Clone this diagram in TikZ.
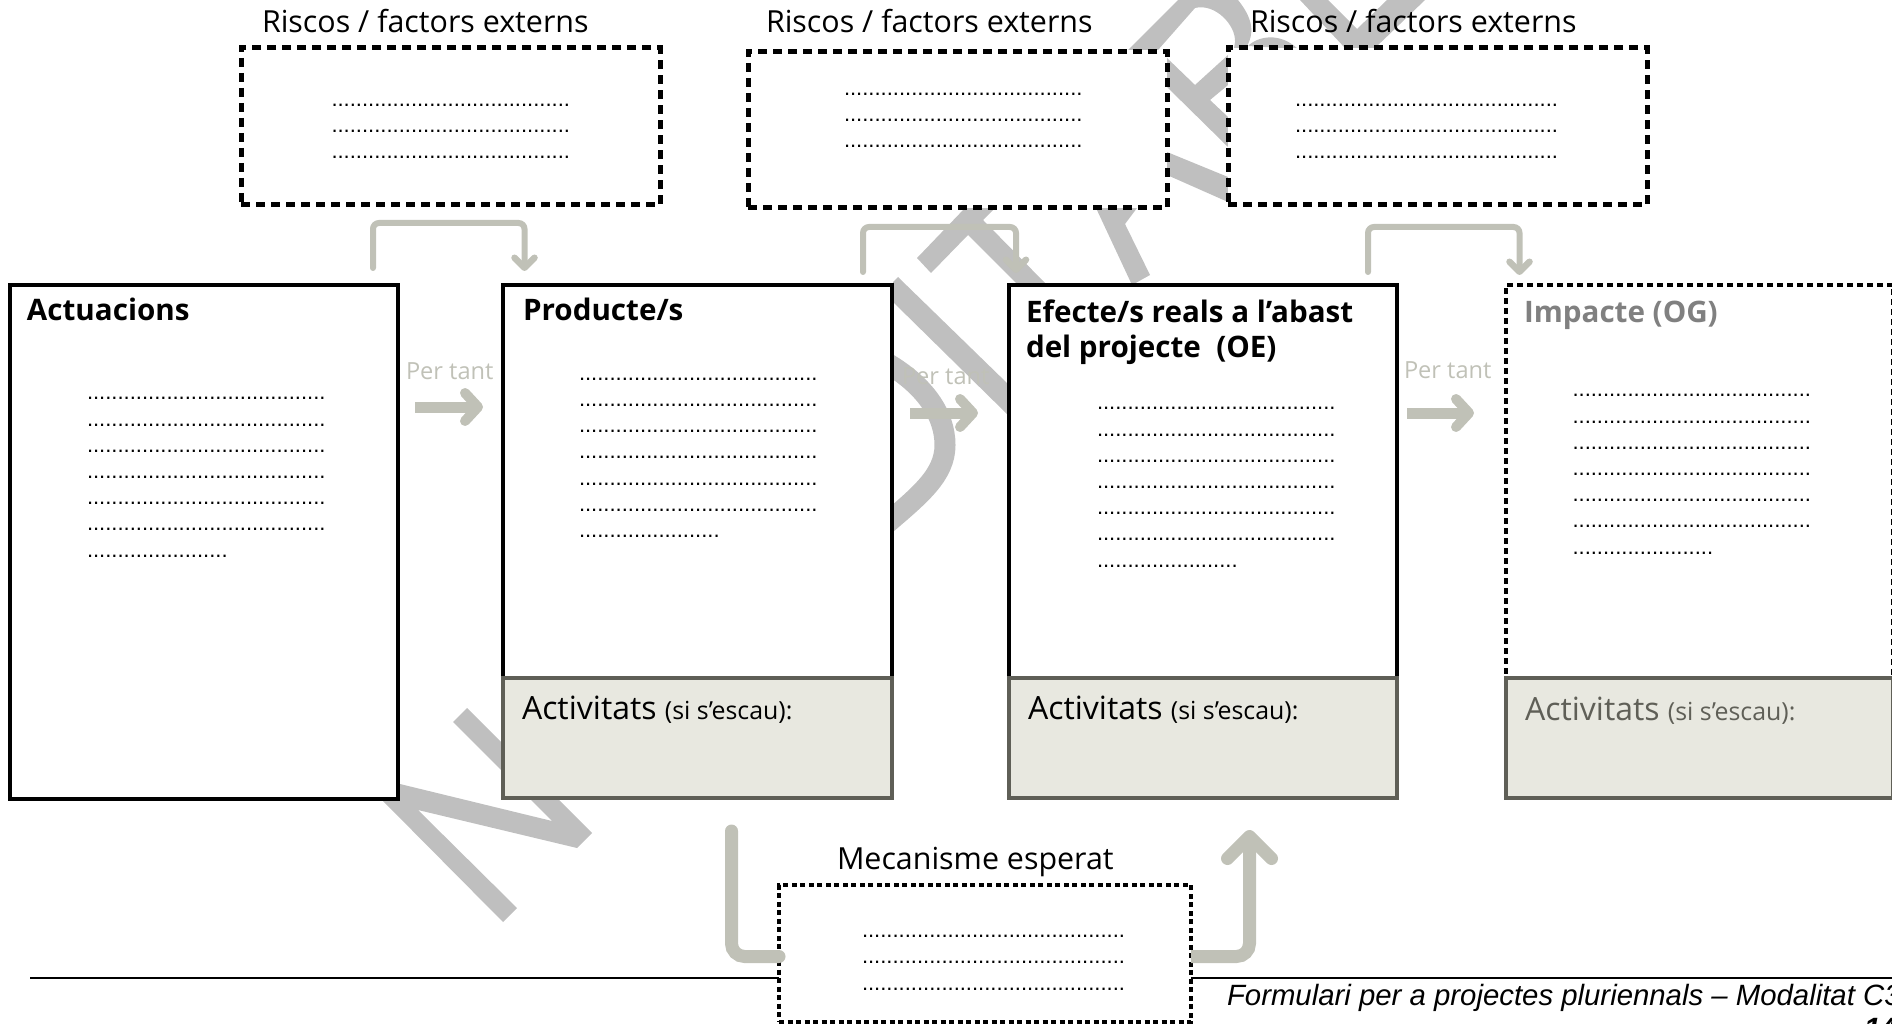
\documentclass[tikz,border=0pt]{standalone}
\usepackage{fontspec}
\setmainfont{Open Sans}
\newfontfamily\dotfont{Liberation Sans}
\newfontfamily\footfont{Liberation Sans}
\usetikzlibrary{arrows.meta,positioning}

\definecolor{arrowgray}{HTML}{C0C1B7}
\definecolor{markgray}{HTML}{BFBFBF}
\definecolor{actfill}{HTML}{E8E8E0}
\definecolor{actline}{HTML}{5F5F57}

\newcommand{\longdots}{.......................................}
\newcommand{\widedots}{...........................................}
\newcommand{\shortdots}{.......................}
\newcommand{\activlab}{Activitats {\fontsize{24.9}{28}\selectfont (si s’escau):}}

\begin{document}
\begin{tikzpicture}[
        x=1pt, y=-1pt,
        every node/.style={inner sep=0pt, outer sep=0pt},
        mainbox/.style={draw=black, line width=3.2pt, fill=white, anchor=north west},
        riskbox/.style={draw=black, line width=5pt, dash pattern=on 9pt off 6pt, fill=white, anchor=north west},
        mecbox/.style={draw=black, line width=3.5pt, dash pattern=on 5pt off 3.5pt, fill=white, anchor=north west},
        impbox/.style={draw=black, line width=4pt, dash pattern=on 6pt off 4pt, fill=white, anchor=north west},
        actbox/.style={draw=actline, line width=3.5pt, fill=actfill, anchor=north west},
        headlab/.style={font=\fontsize{29.6}{35.5}\selectfont\bfseries, anchor=base west, align=left},
        risklab/.style={font=\fontsize{30.4}{36}\selectfont, anchor=base west},
        actlab/.style={font=\fontsize{32}{36}\selectfont, anchor=base west},
        perlab/.style={font=\fontsize{23.6}{28}\selectfont, text=arrowgray, anchor=base west},
        dotlines/.style={font=\dotfont\fontsize{22}{26.2}\selectfont, anchor=base west, align=left},
        footlab/.style={font=\footfont\fontsize{29.35}{34}\selectfont\itshape, anchor=base west},
        wmark/.style={fill=markgray, draw=none},
        brkarrow/.style={draw=arrowgray, line width=6pt, rounded corners=6pt, line cap=round,
            -{Straight Barb[length=10pt,width=20pt,line width=6.5pt,round]}},
        bigarrow/.style={draw=arrowgray, line width=11pt,
            -{Straight Barb[length=13pt,width=28pt,line width=10pt,round]}},
        mecarrow/.style={draw=arrowgray, line width=13pt, rounded corners=13pt, line cap=round}
    ]
    \useasboundingbox (0,0) rectangle (1892,1024);

    % Watermark fragments
    \fill[wmark] (467,708) -- (592,833) -- (577,848) -- (418,810) -- (517,908) -- (503,922)
        -- (382,800) -- (383,780) -- (400,784) -- (552,821) -- (453,722) -- cycle;
    \draw[markgray, line width=21pt] (885,362) .. controls (925,385) and (945,415) .. (945,445)
        .. controls (945,475) and (920,495) .. (885,525);
    \fill[wmark] (893,282) -- (898,277) -- (1009,385) -- (1009,416) -- (893,302) -- cycle;
    \fill[wmark] (917,258) -- (965,208) -- (995,208) -- (983,220) -- (1047,285) -- (1018,285)
        -- (968,235) -- (931,273) -- cycle;
    \fill[wmark] (1096,208) -- (1137,208) -- (1125,224) -- (1150,275) -- (1132,285) -- cycle;
    \fill[wmark] (1167,152) -- (1228,177) -- (1228,202) -- (1167,175) -- cycle;
    \fill[wmark] (1167,58) -- (1195,85) -- (1228,55) -- (1228,85) -- (1210,100) -- (1228,117)
        -- (1228,147) -- (1167,87) -- cycle;
    \fill[wmark] (1128,50) -- (1178,0) -- (1238,0) .. controls (1250,15) and (1256,30) .. (1247,46)
        -- (1232,60) -- (1235,42) .. controls (1236,25) and (1215,3) .. (1195,8) -- (1158,50) -- cycle;
    \fill[wmark] (1248,46) .. controls (1258,36) and (1280,32) .. (1298,49) -- cycle;
    \fill[wmark] (1300,0) -- (1328,0) -- (1357,29) -- (1387,0) -- (1425,0) -- (1375,48) -- (1345,48) -- cycle;

    % Boxes
    \node (act) [mainbox, minimum width=388pt, minimum height=514pt] at (10,285) {};
    \node (prod) [mainbox, minimum width=389pt, minimum height=393pt] at (503,285) {};
    \node (efec) [mainbox, minimum width=388pt, minimum height=393pt] at (1009,285) {};
    \node (imp) [impbox, minimum width=387pt, minimum height=393pt] at (1506,285) {};

    \node (prodact) [actbox, minimum width=389pt, minimum height=120pt, below=0pt of prod.south west, anchor=north west] {};
    \node (efecact) [actbox, minimum width=388pt, minimum height=120pt, below=0pt of efec.south west, anchor=north west] {};
    \node (impact) [actbox, minimum width=387pt, minimum height=120pt, below=0pt of imp.south west, anchor=north west] {};

    \node (risca) [riskbox, minimum width=419pt, minimum height=157pt] at (241,48) {};
    \node (riscb) [riskbox, minimum width=419pt, minimum height=156pt] at (748,52) {};
    \node (riscc) [riskbox, minimum width=419pt, minimum height=157pt] at (1228,48) {};

    % Labels
    \node (riscalab) [risklab] at (262,33) {Riscos / factors externs};
    \node (riscblab) [risklab] at (766,33) {Riscos / factors externs};
    \node (riscclab) [risklab] at (1250,33) {Riscos / factors externs};

    \node (actlab) [headlab] at (27,320) {Actuacions};
    \node (prodlab) [headlab] at (523,320) {Producte/s};
    \node (efeclab) [headlab] at (1026,357.5) {Efecte/s reals a l’abast\\del projecte\ \ (OE)};
    \node (implab) [headlab, text=gray] at (1524,322) {Impacte (OG)};

    \node (prodactlab) [actlab] at (522,719.5) {\activlab};
    \node (efecactlab) [actlab] at (1028,719.5) {\activlab};
    \node (impactlab) [actlab, text=actline] at (1525,720.5) {\activlab};

    \node (pera) [perlab] at (406,379) {Per tant};
    \node (perb) [perlab] at (902,384) {Per tant};
    \node (perc) [perlab] at (1404,378) {Per tant};

    % Dotted lines, placed by the baseline of their last line
    \node (riscadots) [dotlines] at (331.5,159) {\longdots\\\longdots\\\longdots};
    \node (riscbdots) [dotlines] at (844,148) {\longdots\\\longdots\\\longdots};
    \node (risccdots) [dotlines] at (1295,159) {\widedots\\\widedots\\\widedots};
    \node (actdots) [dotlines] at (87,557) {\longdots\\\longdots\\\longdots\\\longdots\\\longdots\\\longdots\\\shortdots};
    \node (proddots) [dotlines] at (579,537.5) {\longdots\\\longdots\\\longdots\\\longdots\\\longdots\\\longdots\\\shortdots};
    \node (efecdots) [dotlines] at (1097,567) {\longdots\\\longdots\\\longdots\\\longdots\\\longdots\\\longdots\\\shortdots};
    \node (impdots) [dotlines] at (1572.5,554) {\longdots\\\longdots\\\longdots\\\longdots\\\longdots\\\longdots\\\shortdots};

    % Footer
    \coordinate (rulel) at (30,978);
    \coordinate (ruler) at (1892,978);
    \draw[line width=2.5pt] (rulel) -- (ruler);
    \node (footlab) [footlab] at (1227,1005) {Formulari per a projectes pluriennals – Modalitat C3};
    \node (pagelab) [footlab, font=\footfont\fontsize{29.35}{34}\selectfont\itshape\bfseries] at (1864,1038) {14};

    % Edges
    \coordinate (brkaa) at ([xshift=-25pt,yshift=17pt]act.north east);
    \coordinate (brkab) at ([xshift=21.5pt,yshift=14pt]prod.north west);
    \coordinate (brkba) at ([xshift=-29pt,yshift=13pt]prod.north east);
    \coordinate (brkbb) at ([xshift=7pt,yshift=12pt]efec.north west);
    \coordinate (brkca) at ([xshift=-29pt,yshift=13pt]efec.north east);
    \coordinate (brkcb) at ([xshift=13.5pt,yshift=10pt]imp.north west);
    \draw[brkarrow] (brkaa) -- ++(0,-45) -| (brkab);
    \draw[brkarrow] (brkba) -- ++(0,-45) -| (brkbb);
    \draw[brkarrow] (brkca) -- ++(0,-45) -| (brkcb);

    \coordinate (bigaa) at ([xshift=17pt,yshift=-122pt]act.north east);
    \coordinate (bigab) at ([xshift=-20pt,yshift=-122pt]prod.north west);
    \coordinate (bigba) at ([xshift=18pt,yshift=-128pt]prod.north east);
    \coordinate (bigbb) at ([xshift=-31pt,yshift=-128pt]efec.north west);
    \coordinate (bigca) at ([xshift=10pt,yshift=-128pt]efec.north east);
    \coordinate (bigcb) at ([xshift=-32pt,yshift=-128pt]imp.north west);
    \draw[bigarrow] (bigaa) -- (bigab);
    \draw[bigarrow] (bigba) -- (bigbb);
    \draw[bigarrow] (bigca) -- (bigcb);

    \node (mec) [mecbox, minimum width=412pt, minimum height=137pt] at (779,885) {};
    \node (meclab) [risklab] at (837,869) {Mecanisme esperat};
    \node (mecdots) [dotlines] at (862,990) {\widedots\\\widedots\\\widedots};
    \coordinate (mecin) at ([xshift=34pt,yshift=-33pt]prodact.south);
    \coordinate (mecout) at ([xshift=46.5pt,yshift=-32pt]efecact.south);
    \draw[mecarrow] (mecin) |- ([yshift=-3pt]mec.west);
    \draw[mecarrow, line cap=butt, -{Straight Barb[length=22pt,width=44pt,line width=13pt,round]}] ([yshift=-3pt]mec.east) -| (mecout);

\end{tikzpicture}
\end{document}
